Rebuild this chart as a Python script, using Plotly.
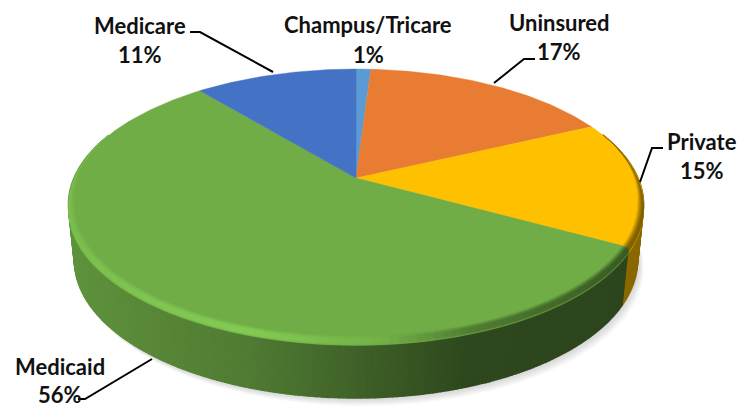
import numpy as np
import plotly.graph_objects as go

categories = ["Champus/Tricare", "Uninsured", "Private", "Medicaid", "Medicare"]
values = [1, 17, 15, 56, 11]
colors = ["#5B9BD5", "#E97C33", "#FFC000", "#70AD47", "#4472C4"]
wall_boost = [1, 1, 1.35, 1, 1]
label_pos = [(368, 24, 54), (559, 22, 51), (702, 141, 170), (60, 366, 394), (140, 25, 54)]
leaders = [None,
           [(535, 59), (524, 59), (494, 83)],
           [(663, 148), (652, 148), (640, 182)],
           [(152, 359), (85, 399), (78, 399)],
           [(190, 32), (200, 32), (273, 72)]]

CX, CY, A, B, K = 356, 178, 282, 130.3, 0.1955
FOOT = 0.98


def project(theta, r=1.0, dy=0.0):
    u, v = r * np.sin(theta), r * np.cos(theta)
    w = 1 + K * v
    return CX + A * u / w, CY - B * v / w + dy


def depth(theta):
    return 55.5 - 6.5 * np.cos(theta)


def rgb(c):
    return tuple(int(c[i:i + 2], 16) for i in (1, 3, 5))


def css(c):
    return "rgb(%d,%d,%d)" % tuple(np.clip(np.round(c), 0, 255))


def poly(fig, x, y, color, lw=1.0, opacity=1):
    fig.add_trace(go.Scatter(x=list(x), y=list(y), mode="lines", fill="toself",
                             fillcolor=color, opacity=opacity,
                             line=dict(color=color, width=lw), hoverinfo="skip",
                             showlegend=False))


def make_strips(step):
    out = []
    for col, boost, a0, a1 in zip(colors, wall_boost, edges[:-1], edges[1:]):
        n = max(1, int((a1 - a0) / step))
        grid = np.linspace(a0, a1, n + 1)
        for t0, t1 in zip(grid[:-1], grid[1:]):
            if np.cos((t0 + t1) / 2) < 0.35:
                out.append((col, boost, t0, t1))
    return out


fig = go.Figure()
ts = np.linspace(0, 2 * np.pi, 240)

# soft shadow below the disc
for i in range(9, 0, -1):
    x, y = project(ts, FOOT, depth(ts))
    poly(fig, x + i * 0.7, y + i * 0.9, "rgb(130,130,130)", 0, 0.04)

edges = np.cumsum([0] + values) / sum(values) * 2 * np.pi
wall_x = [70, 150, 250, 380, 470, 640]
wall_f = [0.85, 0.78, 0.71, 0.53, 0.41, 0.40]
glow_f = [1.10, 1.14, 1.17, 1.03, 0.72, 0.50]

# side wall: each strip overlaps its neighbour so no seams show
for col, boost, t0, t1 in make_strips(np.radians(0.75)):
    t = np.array([t0, t1])
    xt, yt = project(t)
    xb, yb = project(t, FOOT, depth(t))
    f = np.interp(xt.mean(), wall_x, wall_f) * boost
    poly(fig, [xt[0], xt[1], xb[1], xb[0]], [yt[0], yt[1], yb[1], yb[0]], css(np.array(rgb(col)) * f), 1.5)

# top face
for col, a0, a1 in zip(colors, edges[:-1], edges[1:]):
    t = np.linspace(a0, a1, max(4, int((a1 - a0) / np.radians(1))))
    x, y = project(t)
    poly(fig, [CX, *x, CX], [CY, *y, CY], col, 0.4)

# bevel, drawn in stacked layers so the rim blends into the face
layers = [(0.021, 5.5, 0.2), (0.017, 5, 0.45), (0.013, 4.5, 0.7), (0.008, 4, 0.9), (0.004, 3.5, 1.0)]
bevel_strips = make_strips(np.radians(1.5))
for inset, drop, strength in layers:
    for col, boost, t0, t1 in bevel_strips:
        t = np.linspace(t0, t1, 3)
        s = np.clip((0.3 - np.cos(t)) / 0.5, 0, 1)
        xo, yo = project(t, 1.0, drop * s)
        xi, yi = project(t, 1 - inset * s, 0)
        f = np.interp(xo.mean(), wall_x, glow_f)
        base = np.array(rgb(col), dtype=float)
        c = base * (1 + (f - 1) * strength)
        poly(fig, [*xi, *xo[::-1]], [*yi, *yo[::-1]], css(c), 0.3)

# leader lines
for pts in leaders:
    if pts:
        fig.add_trace(go.Scatter(x=[p[0] for p in pts], y=[p[1] for p in pts], mode="lines",
                                 line=dict(color="#000000", width=2), hoverinfo="skip",
                                 showlegend=False))

font = dict(family="Lato", size=22, color="#111111", weight="bold")
for name, val, (lx, y1, y2) in zip(categories, values, label_pos):
    fig.add_annotation(x=lx, y=y1, text=name, showarrow=False, font=font, xanchor="center", yanchor="middle")
    fig.add_annotation(x=lx, y=y2, text=f"{val}%", showarrow=False, font=font, xanchor="center", yanchor="middle")

fig.update_layout(
    width=753, height=408, margin=dict(l=0, r=0, t=0, b=0),
    paper_bgcolor="white", plot_bgcolor="white", showlegend=False,
    xaxis=dict(range=[0, 753], visible=False, fixedrange=True),
    yaxis=dict(range=[408, 0], visible=False, fixedrange=True),
)
fig.write_html("out.html", config=dict(displayModeBar=False),
               post_script="document.body.style.margin='0';document.body.style.overflow='hidden';")
